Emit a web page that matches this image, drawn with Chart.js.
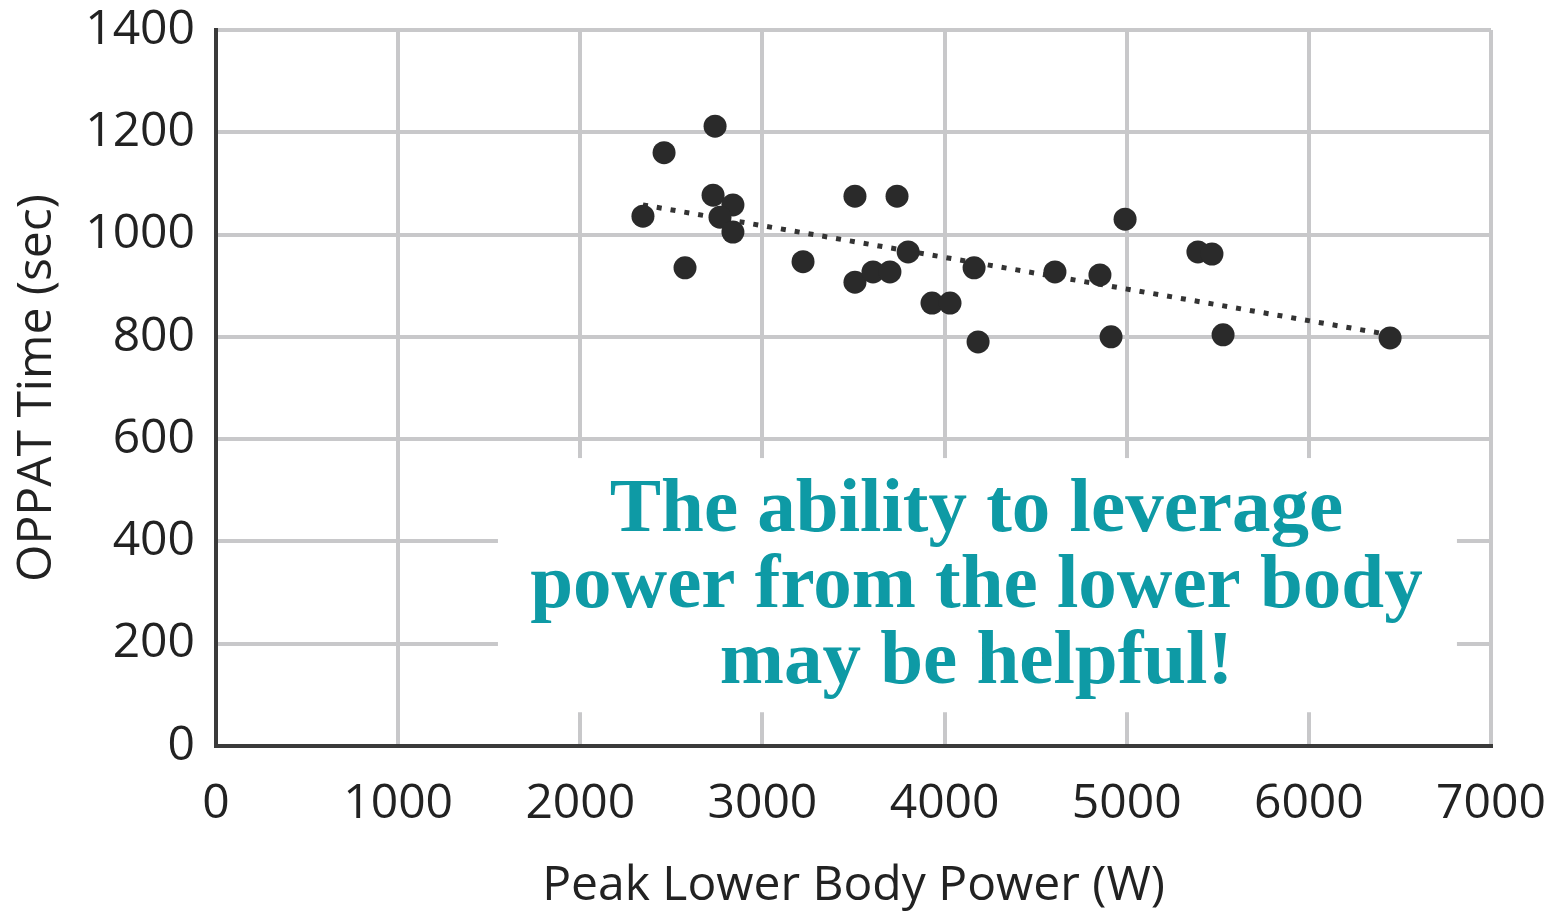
<!DOCTYPE html>
<html>
<head>
<meta charset="utf-8">
<script src="https://cdn.jsdelivr.net/npm/chart.js@4"></script>
<style>
  html, body { margin: 0; padding: 0; background: #fff; }
  #wrap { width: 1557px; height: 911px; position: relative; }
</style>
</head>
<body>
<div id="wrap"><canvas id="power-chart"></canvas></div>
<script>
// Peak lower body power (W) vs OPPAT time (sec)
const powerW = [2344, 2460, 2740, 2575, 2729, 2838, 2767, 2838, 3223, 3508,
  3739, 3800, 3508, 3607, 3700, 3931, 4030, 4184, 4162, 4991,
  5391, 5468, 4606, 4853, 4914, 5529, 6446];
const oppatSec = [1036, 1160, 1212, 935, 1077, 1058, 1034, 1005, 947, 1075,
  1075, 966, 907, 927, 927, 866, 866, 790, 935, 1030,
  966, 962, 927, 921, 800, 804, 798];

// dotted trend line, end points as drawn
const trendX = [2344, 6446];
const trendY = [1058, 804];

const xTicks = [0, 1000, 2000, 3000, 4000, 5000, 6000, 7000];
const yTicks = [0, 200, 400, 600, 800, 1000, 1200, 1400];

const noteLines = ["The ability to leverage", "power from the lower body", "may be helpful!"];

const TEXT = "#222222";
const GRID = "#c8c8ca";
const AXIS = "#3a3a3a";
const TEAL = "#0e9aa5";

// white call-out box (in data units) with the teal message
const notePlugin = {
  id: "note",
  beforeDatasetsDraw(chart) {
    const { ctx, scales: { x, y } } = chart;
    const left = x.getPixelForValue(1548);
    const right = x.getPixelForValue(6813);
    const top = y.getPixelForValue(563);
    const bottom = y.getPixelForValue(66);
    ctx.save();
    ctx.fillStyle = "#ffffff";
    ctx.fillRect(left, top, right - left, bottom - top);

    const cx = (left + right) / 2 - 1;
    const mid = (top + bottom) / 2;
    const gap = 76;
    ctx.fillStyle = TEAL;
    ctx.font = 'bold 77px "Liberation Serif", "Times New Roman", serif';
    ctx.textAlign = "center";
    ctx.textBaseline = "alphabetic";
    noteLines.forEach((line, i) => {
      ctx.fillText(line, cx, mid + 22 + (i - 1) * gap);
    });
    ctx.restore();
  }
};

const points = powerW.map((p, i) => ({ x: p, y: oppatSec[i] }));
const trend = trendX.map((p, i) => ({ x: p, y: trendY[i] }));

const ctx = document.getElementById("power-chart").getContext("2d");
new Chart(ctx, {
  type: "scatter",
  data: {
    datasets: [
      {
        label: "Athletes",
        data: points,
        backgroundColor: "#2a2a2a",
        borderWidth: 0,
        pointRadius: 11.5,
        pointHoverRadius: 11.5,
      },
      {
        type: "line",
        label: "Trend",
        data: trend,
        borderColor: "#333333",
        borderWidth: 5,
        borderDash: [5, 9],
        pointRadius: 0,
        fill: false,
      },
    ],
  },
  options: {
    responsive: true,
    maintainAspectRatio: false,
    animation: false,
    layout: { padding: { top: 30, right: 66, left: 0, bottom: 0 } },
    plugins: {
      legend: { display: false },
      tooltip: { enabled: false },
    },
    scales: {
      x: {
        type: "linear",
        min: 0,
        max: 7000,
        afterBuildTicks: (scale) => { scale.ticks = xTicks.map(v => ({ value: v })); },
        afterFit: (scale) => {
          scale.height = 165;
          scale.paddingLeft = 0;
          scale.paddingRight = 0;
        },
        grid: { color: GRID, lineWidth: 4, drawTicks: false },
        border: { color: AXIS, width: 4 },
        ticks: {
          padding: 30,
          color: TEXT,
          maxRotation: 0,
          callback: (v) => String(v),
          font: { family: '"Open Sans", sans-serif', size: 48 },
        },
        title: {
          display: true,
          text: "Peak Lower Body Power (W)",
          color: TEXT,
          padding: { top: 0, bottom: -4 },
          font: { family: '"Open Sans", sans-serif', size: 48 },
        },
      },
      y: {
        type: "linear",
        min: 0,
        max: 1400,
        afterBuildTicks: (scale) => { scale.ticks = yTicks.map(v => ({ value: v })); },
        afterFit: (scale) => {
          scale.width = 216;
          scale.paddingTop = 0;
          scale.paddingBottom = 0;
        },
        grid: { color: GRID, lineWidth: 4, drawTicks: false },
        border: { color: AXIS, width: 4 },
        ticks: {
          padding: 21,
          color: TEXT,
          callback: (v) => String(v),
          font: { family: '"Open Sans", sans-serif', size: 48 },
        },
        title: {
          display: true,
          text: "OPPAT Time (sec)",
          color: TEXT,
          padding: { top: 9, bottom: 0 },
          font: { family: '"Open Sans", sans-serif', size: 48 },
        },
      },
    },
  },
  plugins: [notePlugin],
});
</script>
</body>
</html>
